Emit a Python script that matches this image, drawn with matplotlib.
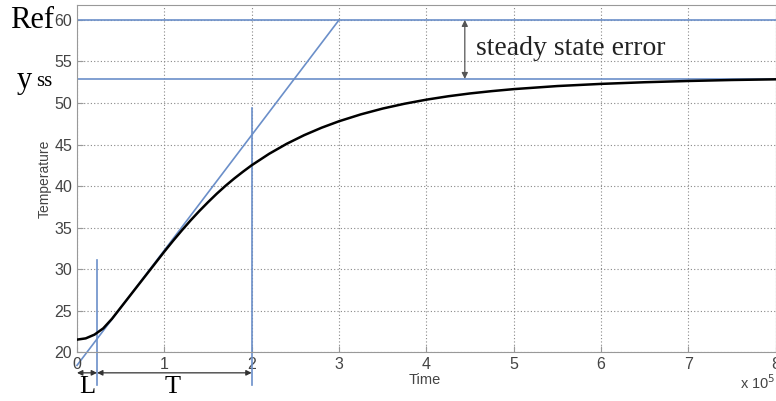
import matplotlib.pyplot as plt
import numpy as np

# step response (time in units of 1e5)
time = [0, 0.1, 0.2, 0.3, 0.4, 0.5, 0.6, 0.7, 0.8, 0.9, 1.0, 1.1, 1.2, 1.3, 1.4, 1.5,
        1.6, 1.7, 1.8, 1.9, 2.0, 2.2, 2.4, 2.6, 2.8, 3.0, 3.25, 3.5, 3.75, 4.0, 4.25,
        4.5, 4.75, 5.0, 5.5, 6.0, 6.5, 7.0, 7.5, 8.0]
temp = [21.5, 21.65, 22.1, 22.85, 24.0, 25.35, 26.7, 28.05, 29.4, 30.75, 32.1, 33.4,
        34.65, 35.85, 36.98, 38.05, 39.07, 40.02, 40.9, 41.72, 42.5, 43.88, 45.08, 46.12,
        47.02, 47.8, 48.63, 49.33, 49.91, 50.4, 50.81, 51.15, 51.43, 51.67, 52.04,
        52.3, 52.5, 52.65, 52.77, 52.85]

ref = 60
yss = 52.9
L = 0.23
T_end = 2.0
tangent_x = [0, 3]
tangent_y = [18.4, 60.0]

blue = '#6b8fc9'
tick_font = 'Liberation Sans'

fig = plt.figure(figsize=(7.76, 4.01), dpi=100)
ax = fig.add_axes([0.0992, 0.122, 0.9005, 0.8655])

ax.plot(time, temp, color='black', lw=1.8, zorder=5)
ax.axhline(ref, color=blue, lw=1.2)
ax.axhline(yss, color=blue, lw=1.2)
ax.plot(tangent_x, tangent_y, color=blue, lw=1.2, clip_on=False)
ax.plot([L, L], [31.1, 16.0], color=blue, lw=1.2, clip_on=False)
ax.plot([T_end, T_end], [49.4, 16.0], color=blue, lw=1.2, clip_on=False)

ax.set_xlim(0, 8)
ax.set_ylim(20, 61.8)
ax.set_xticks(range(0, 9))
ax.set_yticks(range(20, 61, 5))
ax.grid(True, color='#888888', linestyle=(0, (1, 2)), lw=0.8)
for s in ax.spines.values():
    s.set_color('#999999')
ax.tick_params(colors='#999999', labelcolor='#444444', direction='in', length=4)
ax.set_xticklabels([''] + [str(i) for i in range(1, 9)], family=tick_font, fontsize=11.5)
ax.set_yticklabels([str(v) for v in range(20, 61, 5)], family=tick_font, fontsize=11.5)
ax.text(0, 18.5, '0', ha='center', va='center', fontsize=11.5, family=tick_font,
        color='#444444')

ax.set_ylabel('Temperature', fontsize=10, family=tick_font, color='#444444', labelpad=2)
fig.text(0.548, 0.052, 'Time', fontsize=10.5, family=tick_font, color='#444444',
         ha='center', va='center')
fig.text(0.953, 0.045, r'x 10$^5$', fontsize=10.5, family=tick_font, color='#444444',
         ha='left', va='center')

# steady state error arrow
ax.annotate('', xy=(4.44, ref), xytext=(4.44, yss),
            arrowprops=dict(arrowstyle='<|-|>', color='#555555', lw=0.9,
                            shrinkA=0, shrinkB=0, mutation_scale=9))
ax.text(4.57, 56.6, 'steady state error', fontsize=20, family='Liberation Serif',
        ha='left', va='center', color='#222222')

# L and T arrows
ax.annotate('', xy=(0, 17.5), xytext=(L, 17.5), annotation_clip=False,
            arrowprops=dict(arrowstyle='<|-|>', color='#333333', lw=0.9,
                            shrinkA=0, shrinkB=0, mutation_scale=8))
ax.annotate('', xy=(L, 17.5), xytext=(T_end, 17.5), annotation_clip=False,
            arrowprops=dict(arrowstyle='<|-|>', color='#333333', lw=0.9,
                            shrinkA=0, shrinkB=0, mutation_scale=8))
fig.text(0.113, 0.035, 'L', fontsize=19, family='Liberation Serif', ha='center', va='center')
fig.text(0.223, 0.035, 'T', fontsize=19, family='Liberation Serif', ha='center', va='center')

fig.text(0.013, 0.95, 'Ref', fontsize=22, family='Liberation Serif', ha='left', va='center')
fig.text(0.022, 0.80, 'y', fontsize=22, family='Liberation Serif', ha='left', va='center')
fig.text(0.047, 0.797, 'ss', fontsize=15, family='Liberation Serif', ha='left', va='center')

fig.savefig('out.png', dpi=100)
